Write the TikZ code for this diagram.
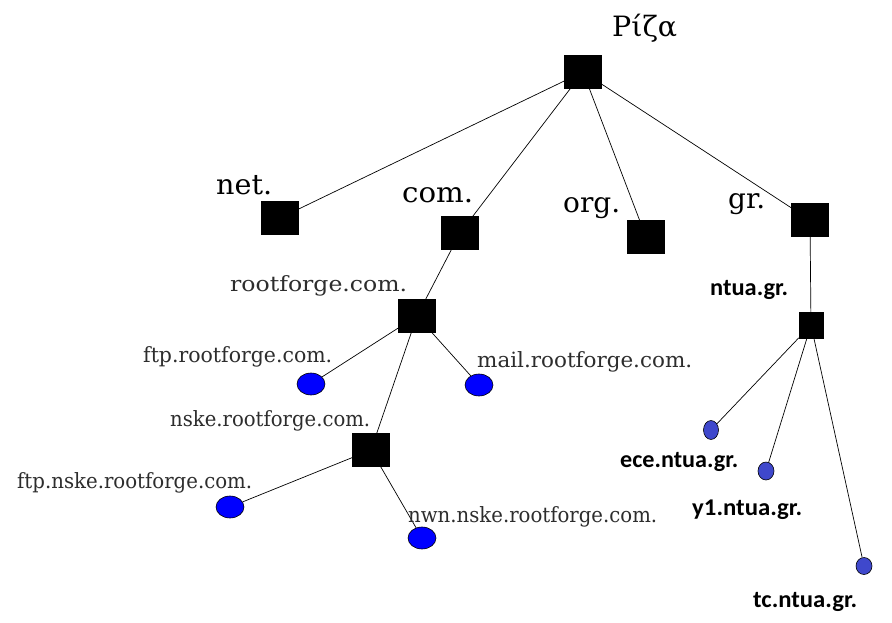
\documentclass[tikz,border=0pt]{standalone}
\usepackage{fontspec}
\usepackage{graphicx}
\usetikzlibrary{shapes.geometric}
\newfontfamily\serf{DejaVu Serif}
\newfontfamily\calib{Carlito}
\newcommand{\fw}[2]{\resizebox{#1}{\height}{#2}}
\definecolor{leafblue}{RGB}{0,0,255}
\definecolor{ntuablue}{RGB}{63,72,204}
\definecolor{lblgray}{RGB}{45,45,45}
\begin{document}
\begin{tikzpicture}[x=1pt,y=-1pt,
  sq/.style={draw=black,fill=black,inner sep=0pt,line width=0.5pt,minimum width=37pt,minimum height=33pt},
  smallsq/.style={sq,minimum width=24pt,minimum height=26pt},
  leaf/.style={ellipse,draw=black,fill=leafblue,inner sep=0pt,line width=0.6pt,minimum width=28pt,minimum height=22pt},
  nleaf/.style={ellipse,draw=black,fill=ntuablue,inner sep=0pt,line width=0.6pt},
  edge/.style={draw=black,line width=0.7pt},
  biglbl/.style={anchor=base west,inner sep=0pt,font=\serf\fontsize{28}{30}\selectfont,text=black},
  graylbl/.style={anchor=base west,inner sep=0pt,font=\serf\fontsize{21}{23}\selectfont,text=lblgray},
  boldlbl/.style={anchor=base west,inner sep=0pt,font=\calib\bfseries\fontsize{24}{26}\selectfont,text=black}
]
\useasboundingbox (0,0) rectangle (892,623);

% nodes
\node[sq] (root) at (583,72) {};
\node[sq] (net) at (280,218) {};
\node[sq] (com) at (460,233) {};
\node[sq] (org) at (646,237) {};
\node[sq] (gr) at (810,220) {};
\node[sq] (rf) at (417,316) {};
\node[leaf] (ftp) at (311,384) {};
\node[leaf] (mail) at (479,385) {};
\node[sq] (nske) at (371,450) {};
\node[leaf] (ftpn) at (230,507) {};
\node[leaf] (nwn) at (422,538) {};
\node[smallsq] (ntua) at (811,325) {};
\node[nleaf,minimum width=15pt,minimum height=19pt] (ece) at (711,430) {};
\node[nleaf,minimum width=16pt,minimum height=18pt] (y1) at (766,471) {};
\node[nleaf,minimum width=16pt,minimum height=17pt] (tc) at (864,566) {};

% edges
\draw[edge] (root) -- (net);
\draw[edge] (root) -- (com);
\draw[edge] (root) -- (org);
\draw[edge] (root) -- (gr);
\draw[edge] (com) -- (rf);
\draw[edge] (rf) -- (ftp);
\draw[edge] (rf) -- (mail);
\draw[edge] (rf) -- (nske);
\draw[edge] (nske) -- (ftpn);
\draw[edge] (nske) -- (nwn);
\draw[edge] (gr) -- (ntua);
\draw[edge] (ntua) -- (ece);
\draw[edge] (ntua) -- (y1);
\draw[edge] (ntua) -- (tc);

% labels
\node[biglbl] (lroot) at (612,37) {\fw{65pt}{Ρίζα}};
\node[biglbl] (lnet) at (216,195) {\fw{56pt}{net.}};
\node[biglbl] (lcom) at (402,203) {\fw{71pt}{com.}};
\node[biglbl] (lorg) at (563,212) {\fw{57pt}{org.}};
\node[biglbl] (lgr) at (728,208) {\fw{37pt}{gr.}};
\node[graylbl] (lrf) at (230,291) {\fw{177pt}{rootforge.com.}};
\node[graylbl] (lftp) at (143,362) {\fw{189pt}{ftp.rootforge.com.}};
\node[graylbl] (lmail) at (477,367) {\fw{215pt}{mail.rootforge.com.}};
\node[graylbl] (lnske) at (170,426) {\fw{200pt}{nske.rootforge.com.}};
\node[graylbl] (lftpn) at (17,488) {\fw{235pt}{ftp.nske.rootforge.com.}};
\node[graylbl] (lnwn) at (408,522) {\fw{249pt}{nwn.nske.rootforge.com.}};
\node[boldlbl] (lntua) at (710,295) {\fw{78pt}{ntua.gr.}};
\node[boldlbl] (lece) at (620,467) {\fw{118pt}{ece.ntua.gr.}};
\node[boldlbl] (ly1) at (692,515) {\fw{110pt}{y1.ntua.gr.}};
\node[boldlbl] (ltc) at (753,607) {\fw{104pt}{tc.ntua.gr.}};
\end{tikzpicture}
\end{document}
